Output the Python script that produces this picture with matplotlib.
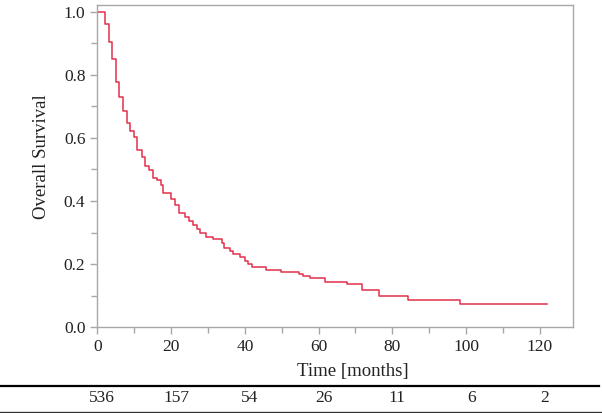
import matplotlib
matplotlib.use('Agg')
import matplotlib.pyplot as plt
import matplotlib.transforms as mtransforms
from matplotlib.ticker import MultipleLocator

plt.rcParams['font.family'] = ['Liberation Serif', 'DejaVu Serif']

# Kaplan-Meier step points (time in months, survival)
time = [0, 2.2, 3.1, 4.1, 5.0, 6.0, 7.0, 8.0, 8.9, 9.9, 10.9, 12.0, 13.0, 14.0,
        15.0, 16.1, 17.2, 17.9, 20.1, 21.2, 22.1, 23.8, 24.9, 25.9, 26.9, 27.8,
        29.6, 31.4, 33.7, 34.3, 36.0, 36.9, 38.7, 40.0, 40.9, 42.0, 45.7, 49.7,
        54.7, 55.7, 57.6, 61.7, 67.6, 71.7, 76.4, 84.3, 98.3, 122.0]
survival = [1.0, 0.963, 0.904, 0.851, 0.776, 0.730, 0.686, 0.649, 0.622, 0.602,
            0.562, 0.541, 0.512, 0.498, 0.474, 0.467, 0.450, 0.424, 0.405, 0.387,
            0.361, 0.350, 0.337, 0.324, 0.311, 0.299, 0.287, 0.278, 0.268, 0.250,
            0.242, 0.232, 0.223, 0.210, 0.200, 0.191, 0.181, 0.175, 0.168, 0.163,
            0.157, 0.143, 0.137, 0.117, 0.098, 0.087, 0.072, 0.072]

# numbers at risk
risk_times = [0, 20, 40, 60, 80, 100, 120]
at_risk = [536, 157, 54, 26, 11, 6, 2]

fig = plt.figure(figsize=(6.02, 4.13), dpi=100)
ax = fig.add_axes([0.1616, 0.208, 0.7904, 0.78])

ax.step(time, survival, where='post', color='#e3304c', lw=1.1)

ax.set_xlim(0, 129)
ax.set_ylim(0, 1.022)
ax.xaxis.set_major_locator(MultipleLocator(20))
ax.xaxis.set_minor_locator(MultipleLocator(10))
ax.yaxis.set_major_locator(MultipleLocator(0.2))
ax.yaxis.set_minor_locator(MultipleLocator(0.1))
ax.yaxis.set_major_formatter(matplotlib.ticker.FormatStrFormatter('%.1f'))

for sp in ax.spines.values():
    sp.set_color('#a8a8a8')
    sp.set_linewidth(1.0)
ax.tick_params(which='both', direction='out', color='#a8a8a8', width=1.0,
               labelsize=12.5, labelcolor='#222222')
ax.tick_params(which='major', length=5)
ax.tick_params(which='minor', length=4)

ax.set_xlabel('Time [months]', fontsize=13.5, color='#222222')
ax.xaxis.set_label_coords(0.538, -0.11)
ax.set_ylabel('Overall Survival', fontsize=13.5, color='#222222')
ax.yaxis.set_label_coords(-0.099, 0.53)

# number-at-risk row
fig.add_artist(plt.Line2D([0, 0.995], [1 - 385.7 / 413] * 2, color='black', lw=1.6))
fig.add_artist(plt.Line2D([0, 1.0], [1 - 411.5 / 413] * 2, color='#333333', lw=1.0))
trans = mtransforms.blended_transform_factory(ax.transData, fig.transFigure)
trans = mtransforms.offset_copy(trans, fig=fig, x=5, y=0, units='dots')
for t, n in zip(risk_times, at_risk):
    fig.text(t, 1 - 398.5 / 413, str(n), transform=trans, ha='center', va='center',
             fontsize=12.5, color='#222222')

fig.savefig('out.png', dpi=100)
